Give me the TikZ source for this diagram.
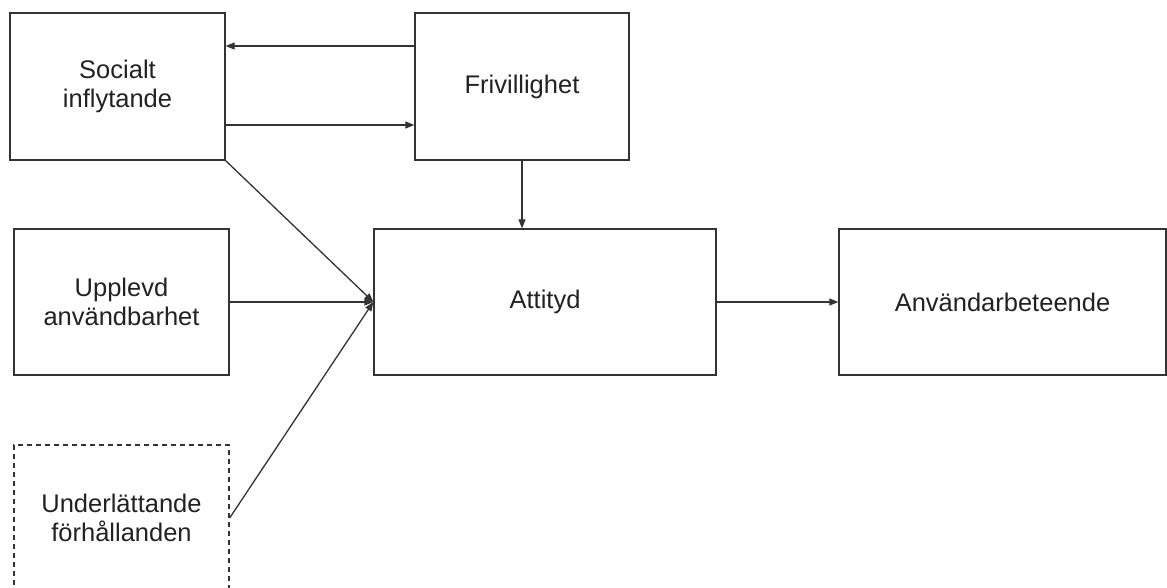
\documentclass[tikz,border=0pt]{standalone}
\usepackage{fontspec}
\setmainfont{Liberation Sans}
\usetikzlibrary{arrows.meta}
\definecolor{linegray}{HTML}{333333}
\definecolor{textgray}{HTML}{222222}
\tikzset{
  box/.style={draw=linegray, line width=1.3pt, rectangle, align=center,
    text=textgray, font=\fontsize{25.5}{29}\selectfont, inner sep=0pt},
  dbox/.style={box, dash pattern=on 5pt off 4pt},
  arr/.style={draw=linegray, line width=1.3pt, -{Triangle[length=9pt,width=7pt]}}
}
\begin{document}
\begin{tikzpicture}[x=1pt,y=-1pt]
\useasboundingbox (0,0) rectangle (1167,588);
\fill[white] (0,0) rectangle (1167,588);
\node[box, minimum width=215pt, minimum height=147pt] (soc) at (117.5,86.5) {Socialt\\inflytande};
\node[box, minimum width=214pt, minimum height=147pt] (fri) at (522,86.5) {Frivillighet};
\node[box, minimum width=215pt, minimum height=146pt] (upp) at (121.5,302) {Upplevd\\användbarhet};
\node[box, minimum width=342pt, minimum height=146pt] (att) at (545,302) {Attityd};
\node[box, minimum width=327pt, minimum height=146pt] (anv) at (1002.5,302) {Användarbeteende};
\node[dbox, minimum width=215pt, minimum height=146pt] (und) at (121.5,518) {Underlättande\\förhållanden};
\coordinate (ytop) at (0,46);
\coordinate (ybot) at (0,125);
\draw[arr] (fri.west |- ytop) -- (soc.east |- ytop);
\draw[arr] (soc.east |- ybot) -- (fri.west |- ybot);
\draw[arr] (fri.south) -- (fri.south |- att.north);
\draw[arr] (soc.south east) -- (att.west);
\draw[arr] (upp.east) -- (att.west);
\draw[arr] (und.east) -- (att.west);
\draw[arr] (att.east) -- (anv.west);
\end{tikzpicture}
\end{document}
